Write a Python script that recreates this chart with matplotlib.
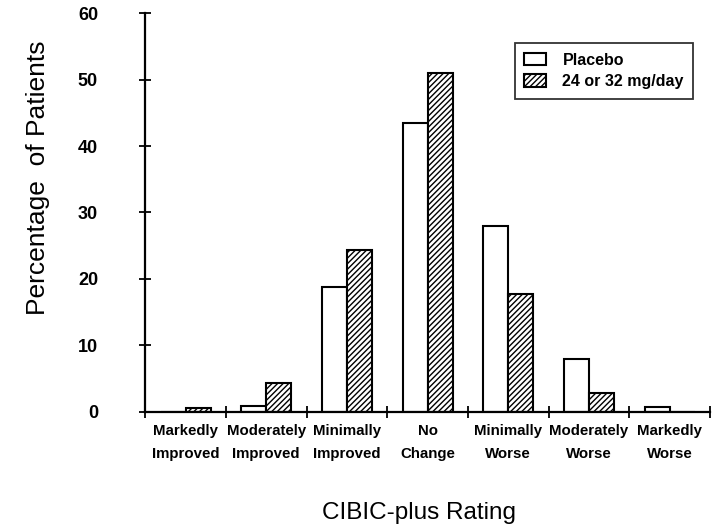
import numpy as np
import matplotlib
matplotlib.use("Agg")
import matplotlib.pyplot as plt

plt.rcParams['font.family'] = ['Liberation Sans', 'DejaVu Sans']
plt.rcParams['hatch.linewidth'] = 1.0

categories = ["Markedly\nImproved", "Moderately\nImproved", "Minimally\nImproved",
              "No\nChange", "Minimally\nWorse", "Moderately\nWorse", "Markedly\nWorse"]
placebo = [0.0, 0.9, 18.8, 43.5, 28.0, 8.0, 0.8]
drug = [0.6, 4.3, 24.3, 51.0, 17.8, 2.8, 0.0]
yticks = [0, 10, 20, 30, 40, 50, 60]

fig = plt.figure(figsize=(7.12, 5.24), dpi=100)
ax = fig.add_axes([0.204, 0.214, 0.793, 0.761])

x = np.arange(len(categories))
w = 0.31
ax.bar(x - w/2, placebo, w, facecolor='white', edgecolor='black', linewidth=1.5,
       label='Placebo')
ax.bar(x + w/2, drug, w, facecolor='white', edgecolor='black', linewidth=1.5,
       hatch='//////', label='24 or 32 mg/day')

ax.set_xlim(-0.5, len(categories) - 0.5)
ax.set_ylim(0, 60)
ax.spines['top'].set_visible(False)
ax.spines['right'].set_visible(False)
ax.spines['left'].set_linewidth(1.6)
ax.spines['bottom'].set_linewidth(1.6)

ax.set_yticks(yticks)
ax.set_yticklabels([str(v) for v in yticks], fontsize=13, fontweight='bold')
ax.tick_params(axis='y', direction='inout', length=8, width=1.3, pad=30)

# category labels centred, ticks at group edges
ax.set_xticks(x)
ax.set_xticklabels(categories, fontsize=10.8, fontweight='bold', linespacing=1.75)
ax.tick_params(axis='x', length=0, pad=9)
ax.set_xticks(np.arange(len(categories) + 1) - 0.5, minor=True)
ax.tick_params(axis='x', which='minor', direction='inout', length=8, width=1.3)

ax.set_ylabel("Percentage  of Patients", fontsize=19)
ax.yaxis.set_label_coords(-0.168, 0.586)
ax.set_xlabel("CIBIC-plus Rating", fontsize=17.5)
ax.xaxis.set_label_coords(0.485, -0.225)

leg = ax.legend(loc='upper right', bbox_to_anchor=(0.985, 0.945), fontsize=11.5,
                frameon=True, fancybox=False, edgecolor='black',
                handlelength=1.4, handleheight=0.8, borderpad=0.6,
                labelspacing=0.4, handletextpad=1.0)
leg.get_frame().set_linewidth(1.3)
for t in leg.get_texts():
    t.set_fontweight('bold')

fig.savefig("out.png", dpi=100)
